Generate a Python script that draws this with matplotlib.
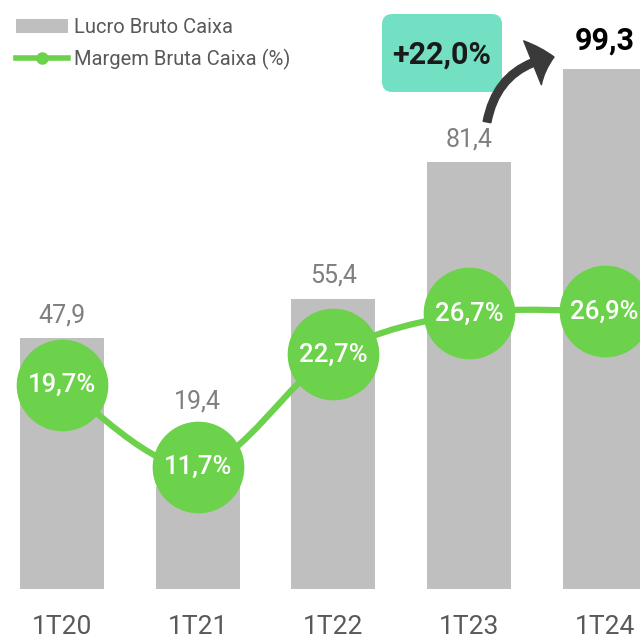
import numpy as np
import matplotlib
matplotlib.use('Agg')
import matplotlib.pyplot as plt
from matplotlib.path import Path
from matplotlib.patches import PathPatch, FancyBboxPatch, FancyArrowPatch, Patch
from matplotlib.lines import Line2D

plt.rcParams['font.family'] = ['Roboto', 'DejaVu Sans']

periods = ['1T20', '1T21', '1T22', '1T23', '1T24']
lucro = [47.9, 19.4, 55.4, 81.4, 99.3]
margem = [19.7, 11.7, 22.7, 26.7, 26.9]
lucro_labels = ['47,9', '19,4', '55,4', '81,4', '99,3']
margem_labels = ['19,7%', '11,7%', '22,7%', '26,7%', '26,9%']
growth_label = '+22,0%'

bar_color = '#bfbfbf'
green = '#6dd24b'

fig = plt.figure(figsize=(6.4, 6.39), dpi=100)
ax = fig.add_axes([0, 50/639, 1, 589/639])
x = np.arange(len(periods))

ax.bar(x, lucro, width=0.62, color=bar_color, zorder=1)
ax.set_xlim(-0.457, 4.26)
ax.set_ylim(0, 112.4)
for s in ax.spines.values():
    s.set_visible(False)
ax.set_yticks([])
ax.set_xticks(x, periods, fontsize=19, color='#595959')
ax.tick_params(axis='x', length=0, pad=19)

# margin line on secondary axis, smoothed with bezier segments
ax2 = ax.twinx()
ax2.set_ylim(-0.2, 57.3)
ax2.set_yticks([])
for s in ax2.spines.values():
    s.set_visible(False)

pts = list(zip(x, margem))
verts = [pts[0]]
codes = [Path.MOVETO]
for i in range(len(pts) - 1):
    p0 = np.array(pts[max(i - 1, 0)])
    p1 = np.array(pts[i])
    p2 = np.array(pts[i + 1])
    p3 = np.array(pts[min(i + 2, len(pts) - 1)])
    c1 = p1 + (p2 - p0) / 6
    c2 = p2 - (p3 - p1) / 6
    verts += [tuple(c1), tuple(c2), tuple(p2)]
    codes += [Path.CURVE4] * 3
ax2.add_patch(PathPatch(Path(verts, codes), fill=False, edgecolor=green,
                        lw=4.5, zorder=2))
ax2.plot(x, margem, linestyle='', marker='o', markersize=65,
         color=green, zorder=3, clip_on=False)
for i in range(len(x)):
    ax2.text(x[i], margem[i], margem_labels[i], ha='center', va='center',
             fontsize=18.5, fontweight='medium', color='white', zorder=4,
             clip_on=False)

# bar value labels (drawn on ax2 so they sit above the line)
for i in range(len(x)):
    if i == len(x) - 1:
        ax.annotate(lucro_labels[i], (x[i], lucro[i]), xytext=(0, 14),
                    textcoords='offset points', ha='center', va='baseline',
                    fontsize=22, fontweight='bold', color='black',
                    annotation_clip=False)
    elif i == 1:
        # short bar: label sits above the circle
        ax2.annotate(lucro_labels[i], (x[i], margem[i]), xytext=(0, 42.5),
                     textcoords='offset points', ha='center', va='baseline',
                     fontsize=18, color='#7f7f7f', zorder=5)
    else:
        ax.annotate(lucro_labels[i], (x[i], lucro[i]), xytext=(0, 11.5),
                    textcoords='offset points', ha='center', va='baseline',
                    fontsize=18, color='#7f7f7f')

# legend
handles = [Patch(facecolor=bar_color, edgecolor='none'),
           Line2D([], [], color=green, lw=4, marker='o', markersize=8)]
fig.legend(handles, ['Lucro Bruto Caixa', 'Margem Bruta Caixa (%)'],
           loc='upper left', bbox_to_anchor=(0.0, 0.997), frameon=False,
           fontsize=14.5, labelcolor='#595959', handlelength=2.6,
           handleheight=0.75, handletextpad=0.25, labelspacing=0.6,
           borderpad=0.3)

# growth box and arrow
fig.patches.append(FancyBboxPatch((382/640, 1 - 92/639), 120/640, 78/639,
                                  boxstyle='round,pad=0,rounding_size=0.016',
                                  transform=fig.transFigure, facecolor='#73e0c4',
                                  edgecolor='none'))
fig.text(442/640, 1 - 55/639, growth_label, ha='center', va='center',
         fontsize=22, fontweight='semibold', color='#1a1a1a')
fig.patches.append(FancyArrowPatch((487/640, 1 - 122/639), (554/640, 1 - 57/639),
                                   transform=fig.transFigure,
                                   connectionstyle='arc3,rad=-0.35',
                                   arrowstyle='simple,head_length=0.8,head_width=1.7,tail_width=0.28',
                                   mutation_scale=20, color='#3a3a3a',
                                   shrinkA=0, shrinkB=0))

fig.savefig('out.png', dpi=100)
